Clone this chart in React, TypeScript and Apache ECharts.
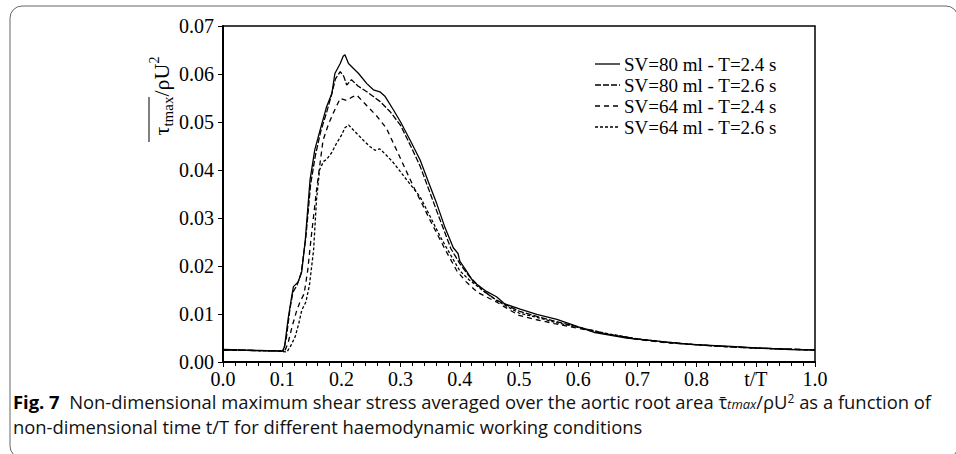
import React, { useEffect, useRef } from "react";
import * as echarts from "echarts";

const seriesNames = [
  "SV=80 ml - T=2.4 s",
  "SV=80 ml - T=2.6 s",
  "SV=64 ml - T=2.4 s",
  "SV=64 ml - T=2.6 s",
];

const sv80T24: [number, number][] = [
  [0, 0.0026], [0.03, 0.0025], [0.06, 0.0024], [0.09, 0.0023], [0.1, 0.0022], [0.104, 0.0032],
  [0.11, 0.009], [0.116, 0.0136], [0.119, 0.0157], [0.127, 0.0167], [0.133, 0.0188], [0.139, 0.0254],
  [0.147, 0.0379], [0.155, 0.0442], [0.164, 0.0483], [0.175, 0.0532], [0.184, 0.056], [0.189, 0.0601],
  [0.198, 0.0622], [0.203, 0.0637], [0.206, 0.064], [0.212, 0.0622], [0.22, 0.0612], [0.229, 0.0601],
  [0.243, 0.058], [0.254, 0.0567], [0.265, 0.0563], [0.274, 0.0553], [0.288, 0.0525], [0.3, 0.05],
  [0.317, 0.046], [0.333, 0.0421], [0.347, 0.0375], [0.361, 0.033], [0.375, 0.028], [0.389, 0.0238],
  [0.397, 0.0226], [0.4, 0.021], [0.41, 0.0192], [0.423, 0.0167], [0.445, 0.0147], [0.462, 0.0136],
  [0.476, 0.0121], [0.502, 0.011], [0.53, 0.0099], [0.564, 0.0089], [0.592, 0.0077], [0.626, 0.0062],
  [0.682, 0.005], [0.738, 0.0043], [0.794, 0.0036], [0.851, 0.0033], [0.907, 0.0029], [0.958, 0.0026],
  [1.0, 0.0025],
];

const sv80T26: [number, number][] = [
  [0, 0.0025], [0.05, 0.0024], [0.09, 0.0023], [0.102, 0.0023], [0.107, 0.005], [0.113, 0.011],
  [0.118, 0.0145], [0.125, 0.016], [0.132, 0.0185], [0.14, 0.026], [0.148, 0.037], [0.156, 0.043],
  [0.165, 0.048], [0.175, 0.052], [0.183, 0.0555], [0.19, 0.059], [0.198, 0.0605], [0.204, 0.0595],
  [0.209, 0.0577], [0.217, 0.0588], [0.228, 0.0575], [0.243, 0.0563], [0.265, 0.0543], [0.282, 0.0522],
  [0.3, 0.0493], [0.317, 0.045], [0.333, 0.0408], [0.36, 0.0318], [0.385, 0.0236], [0.4, 0.0205],
  [0.415, 0.018], [0.44, 0.0148], [0.462, 0.0129], [0.5, 0.0106], [0.53, 0.0095], [0.56, 0.0085],
  [0.6, 0.0073], [0.65, 0.0058], [0.7, 0.0048], [0.75, 0.0041], [0.8, 0.0036], [0.85, 0.0032],
  [0.9, 0.0029], [0.95, 0.0027], [1.0, 0.0025],
];

const sv64T24: [number, number][] = [
  [0, 0.0025], [0.05, 0.0024], [0.09, 0.0023], [0.104, 0.0022], [0.11, 0.004], [0.117, 0.0075],
  [0.124, 0.0105], [0.13, 0.0125], [0.137, 0.0142], [0.143, 0.019], [0.149, 0.026], [0.158, 0.0358],
  [0.169, 0.0462], [0.178, 0.0495], [0.186, 0.0518], [0.198, 0.0549], [0.209, 0.0545], [0.218, 0.0552],
  [0.226, 0.0556], [0.243, 0.0534], [0.26, 0.0512], [0.276, 0.0487], [0.293, 0.0442], [0.32, 0.037],
  [0.35, 0.0295], [0.375, 0.0235], [0.395, 0.019], [0.41, 0.0168], [0.43, 0.0145], [0.462, 0.0125],
  [0.5, 0.0097], [0.53, 0.0088], [0.56, 0.008], [0.6, 0.007], [0.65, 0.0058], [0.7, 0.0047],
  [0.75, 0.004], [0.8, 0.0036], [0.85, 0.0032], [0.9, 0.0029], [0.95, 0.0027], [1.0, 0.0025],
];

const sv64T26: [number, number][] = [
  [0, 0.0025], [0.05, 0.0024], [0.09, 0.0023], [0.108, 0.0021], [0.115, 0.0035], [0.122, 0.0053],
  [0.128, 0.008], [0.133, 0.0108], [0.14, 0.0125], [0.146, 0.016], [0.153, 0.0233], [0.158, 0.0338],
  [0.163, 0.04], [0.17, 0.0418], [0.175, 0.0422], [0.183, 0.0435], [0.192, 0.0456], [0.2, 0.0472],
  [0.206, 0.0488], [0.212, 0.0494], [0.219, 0.0485], [0.226, 0.0476], [0.237, 0.0462], [0.248, 0.0449],
  [0.257, 0.0441], [0.265, 0.0444], [0.275, 0.0432], [0.288, 0.0415], [0.31, 0.038], [0.333, 0.0344],
  [0.35, 0.0303], [0.367, 0.0261], [0.385, 0.0222], [0.4, 0.019], [0.415, 0.0172], [0.44, 0.0148],
  [0.462, 0.0128], [0.5, 0.0102], [0.53, 0.0093], [0.56, 0.0083], [0.6, 0.0072], [0.65, 0.0059],
  [0.7, 0.0048], [0.75, 0.0041], [0.8, 0.0036], [0.85, 0.0032], [0.9, 0.0029], [0.95, 0.0027],
  [1.0, 0.0025],
];

const seriesData = [sv80T24, sv80T26, sv64T24, sv64T26];
const dashStyles: any[] = [null, [6, 2], [5, 4], [3, 2]];

const SERIF = "'Liberation Serif', 'Times New Roman', serif";
const SANS = "'Open Sans', 'Noto Sans', sans-serif";

export default function App() {
  const ref = useRef<HTMLDivElement>(null);
  useEffect(() => {
    if (!ref.current) return;
    const chart = echarts.init(ref.current, undefined, { renderer: "svg" });

    const legendGraphics: any[] = [];
    seriesNames.forEach((name, i) => {
      const cy = 64 + i * 21;
      legendGraphics.push({
        type: "line",
        shape: { x1: 595, y1: cy, x2: 620, y2: cy },
        style: { stroke: "#000", lineWidth: 1.3, lineDash: dashStyles[i] || undefined },
        silent: true,
      });
      legendGraphics.push({
        type: "text",
        x: 624,
        y: cy,
        style: {
          text: name,
          fontFamily: SERIF,
          fontSize: 19,
          fill: "#000",
          verticalAlign: "middle",
        },
      });
    });

    const option: any = {
      animation: false,
      backgroundColor: "#fff",
      grid: {
        left: 223,
        right: 141,
        top: 26,
        bottom: 92,
        show: true,
        borderColor: "#000",
        borderWidth: 1.5,
        backgroundColor: "transparent",
      },
      xAxis: {
        type: "value",
        min: 0,
        max: 1,
        interval: 0.1,
        axisLine: { show: true, lineStyle: { color: "#000", width: 2 } },
        axisTick: { show: true, inside: false, length: 5, lineStyle: { color: "#000", width: 1 } },
        minorTick: { show: true, splitNumber: 5, length: 4, lineStyle: { color: "#000", width: 1 } },
        splitLine: { show: false },
        axisLabel: {
          fontFamily: SERIF,
          fontSize: 20,
          lineHeight: 20,
          color: "#000",
          margin: 7,
          formatter: (v: number) => (Math.abs(v - 0.9) < 1e-6 ? "t/T" : v.toFixed(1)),
        },
      },
      yAxis: {
        type: "value",
        min: 0,
        max: 0.07,
        interval: 0.01,
        axisLine: { show: true, lineStyle: { color: "#000", width: 2 } },
        axisTick: { show: true, inside: false, length: 5, lineStyle: { color: "#000", width: 1 } },
        splitLine: { show: false },
        axisLabel: {
          fontFamily: SERIF,
          fontSize: 20,
          color: "#000",
          margin: 9,
          formatter: (v: number) => v.toFixed(2),
        },
      },
      series: seriesNames.map((name, i) => ({
        name,
        type: "line",
        data: seriesData[i],
        symbol: "none",
        showSymbol: false,
        lineStyle: { color: "#000", width: 1.3, type: dashStyles[i] || "solid" },
        itemStyle: { color: "#000" },
        z: 5 - i,
      })),
      graphic: [
        {
          type: "rect",
          shape: { x: 10, y: 6, width: 948, height: 452, r: 12 },
          style: { fill: "none", stroke: "#666", lineWidth: 1 },
          silent: true,
        },
        {
          type: "line",
          shape: { x1: 149, y1: 97, x2: 149, y2: 142 },
          style: { stroke: "#000", lineWidth: 1 },
        },
        {
          type: "text",
          x: 161,
          y: 96,
          rotation: Math.PI / 2,
          style: {
            text: "{t|τ}{s|tmax}{n|/ρU}{p|2}",
            align: "center",
            verticalAlign: "middle",
            fill: "#000",
            rich: {
              t: { fontFamily: SERIF, fontSize: 22, lineHeight: 28, fill: "#000", verticalAlign: "middle" },
              s: { fontFamily: SERIF, fontSize: 15, lineHeight: 28, fill: "#000", verticalAlign: "bottom" },
              n: { fontFamily: SERIF, fontSize: 22, lineHeight: 28, fill: "#000", verticalAlign: "middle" },
              p: { fontFamily: SERIF, fontSize: 14, lineHeight: 28, fill: "#000", verticalAlign: "top" },
            },
          },
        },
        ...legendGraphics,
        {
          type: "text",
          x: 13,
          y: 401,
          style: {
            text:
              "{b|Fig. 7}{r|  Non-dimensional maximum shear stress averaged over the aortic root area }{r|τ\u0304}{i|tmax}{r|/ρU}{sup|2}{r| as a function of}",
            verticalAlign: "middle",
            rich: {
              b: { fontFamily: SANS, fontSize: 18.4, fontWeight: "bold", fill: "#000", lineHeight: 18 },
              r: { fontFamily: SANS, fontSize: 18.4, fill: "#111", lineHeight: 18 },
              i: { fontFamily: SANS, fontSize: 13, fontStyle: "italic", fill: "#111", lineHeight: 18, verticalAlign: "bottom" },
              sup: { fontFamily: SANS, fontSize: 12, fill: "#111", lineHeight: 18, verticalAlign: "top" },
            },
          },
        },
        {
          type: "text",
          x: 13,
          y: 426,
          style: {
            text: "non-dimensional time t/T for different haemodynamic working conditions",
            verticalAlign: "middle",
            fontFamily: SANS,
            fontSize: 18.4,
            lineHeight: 18,
            fill: "#111",
          },
        },
      ],
    };
    chart.setOption(option);
    return () => chart.dispose();
  }, []);
  return (
    <div
      ref={ref}
      style={{ position: "fixed", left: 0, top: 0, width: 956, height: 454, background: "#fff" }}
    />
  );
}
